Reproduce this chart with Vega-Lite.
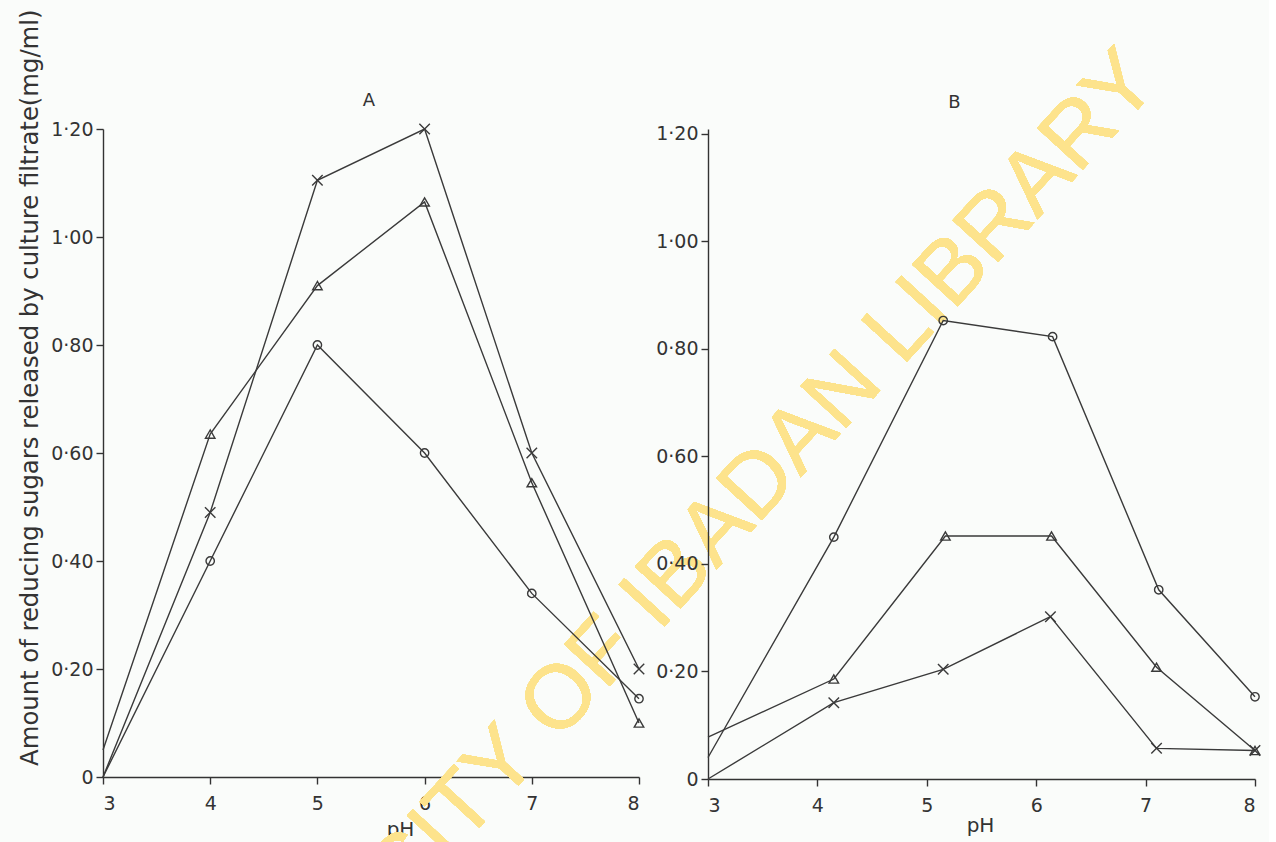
{
  "$schema": "https://vega.github.io/schema/vega-lite/v6.json",
  "background": "#fafcfa",
  "padding": {"left": 17, "top": 8, "right": 5, "bottom": 5},
  "bounds": "flush",
  "spacing": 69,
  "config": {
    "view": {"stroke": null},
    "font": "DejaVu Sans",
    "axis": {
      "grid": false,
      "domainColor": "#333333",
      "tickColor": "#333333",
      "labelColor": "#333333",
      "titleColor": "#333333",
      "domainWidth": 1.4,
      "tickWidth": 1.4,
      "tickSize": 7,
      "labelFontSize": 19,
      "labelFont": "DejaVu Sans",
      "titleFont": "DejaVu Sans",
      "titleFontWeight": "normal",
      "titleFontSize": 20
    },
    "title": {"fontSize": 18, "fontWeight": "normal", "color": "#333333", "font": "DejaVu Sans"}
  },
  "datasets": {
    "sugars": [
      {"panel": "A", "series": "cross", "pH": 3, "value": 0},
      {"panel": "A", "series": "cross", "pH": 4, "value": 0.49},
      {"panel": "A", "series": "cross", "pH": 5, "value": 1.105},
      {"panel": "A", "series": "cross", "pH": 6, "value": 1.2},
      {"panel": "A", "series": "cross", "pH": 7, "value": 0.6},
      {"panel": "A", "series": "cross", "pH": 8, "value": 0.2},
      {"panel": "A", "series": "triangle", "pH": 3, "value": 0.05},
      {"panel": "A", "series": "triangle", "pH": 4, "value": 0.635},
      {"panel": "A", "series": "triangle", "pH": 5, "value": 0.91},
      {"panel": "A", "series": "triangle", "pH": 6, "value": 1.065},
      {"panel": "A", "series": "triangle", "pH": 7, "value": 0.545},
      {"panel": "A", "series": "triangle", "pH": 8, "value": 0.1},
      {"panel": "A", "series": "circle", "pH": 3, "value": 0},
      {"panel": "A", "series": "circle", "pH": 4, "value": 0.4},
      {"panel": "A", "series": "circle", "pH": 5, "value": 0.8},
      {"panel": "A", "series": "circle", "pH": 6, "value": 0.6},
      {"panel": "A", "series": "circle", "pH": 7, "value": 0.34},
      {"panel": "A", "series": "circle", "pH": 8, "value": 0.145},
      {"panel": "B", "series": "circle", "pH": 3, "value": 0.04},
      {"panel": "B", "series": "circle", "pH": 4.15, "value": 0.45},
      {"panel": "B", "series": "circle", "pH": 5.15, "value": 0.853},
      {"panel": "B", "series": "circle", "pH": 6.15, "value": 0.823},
      {"panel": "B", "series": "circle", "pH": 7.12, "value": 0.352},
      {"panel": "B", "series": "circle", "pH": 8, "value": 0.153},
      {"panel": "B", "series": "triangle", "pH": 3, "value": 0.078},
      {"panel": "B", "series": "triangle", "pH": 4.15, "value": 0.186},
      {"panel": "B", "series": "triangle", "pH": 5.17, "value": 0.452},
      {"panel": "B", "series": "triangle", "pH": 6.14, "value": 0.452},
      {"panel": "B", "series": "triangle", "pH": 7.1, "value": 0.208},
      {"panel": "B", "series": "triangle", "pH": 8, "value": 0.053},
      {"panel": "B", "series": "cross", "pH": 3, "value": 0},
      {"panel": "B", "series": "cross", "pH": 4.15, "value": 0.142},
      {"panel": "B", "series": "cross", "pH": 5.15, "value": 0.204},
      {"panel": "B", "series": "cross", "pH": 6.13, "value": 0.302},
      {"panel": "B", "series": "cross", "pH": 7.1, "value": 0.057},
      {"panel": "B", "series": "cross", "pH": 8, "value": 0.053}
    ]
  },
  "hconcat": [
    {
      "width": 536,
      "height": 648,
      "title": {"text": "A", "frame": "group", "offset": -101, "dx": -2},
      "data": {"name": "sugars"},
      "transform": [{"filter": "datum.panel === 'A'"}],
      "encoding": {
        "x": {
          "field": "pH", "type": "quantitative",
          "scale": {"domain": [3, 8], "nice": false, "zero": false},
          "axis": {"values": [3, 4, 5, 6, 7, 8], "title": "pH", "labelPadding": 10, "titleX": 297, "titleY": 52, "titleBaseline": "middle", "titleAlign": "center"}
        },
        "y": {
          "field": "value", "type": "quantitative",
          "scale": {"domain": [0, 1.2], "nice": false},
          "axis": {
            "values": [0, 0.2, 0.4, 0.6, 0.8, 1.0, 1.2],
            "labelExpr": "datum.value == 0 ? '0' : replace(format(datum.value, '.2f'), '.', '·')",
            "labelPadding": 3,
            "title": "Amount of reducing sugars released by culture filtrate(mg/ml)",
            "titleFontSize": 24.3,
            "titleAngle": -90,
            "titleAlign": "right",
            "titleBaseline": "middle",
            "titleX": -73,
            "titleY": -120
          }
        }
      },
      "layer": [
        {
          "mark": {"type": "text", "text": "UNIVERSITY OF IBADAN LIBRARY", "angle": -47.5, "fontSize": 90, "font": "Liberation Sans", "color": "#fde38c", "align": "center", "baseline": "middle"},
          "encoding": {"x": {"datum": 8.093}, "y": {"datum": 0.322}}
        },
        {
          "mark": {"type": "line", "color": "#3a3a3a", "strokeWidth": 1.4},
          "encoding": {"detail": {"field": "series"}}
        },
        {
          "transform": [{"filter": "datum.pH > 3"}],
          "mark": {"type": "point", "filled": false, "color": "#3a3a3a", "strokeWidth": 1.4, "opacity": 1},
          "encoding": {
            "shape": {"field": "series", "scale": {"domain": ["circle", "triangle", "cross"], "range": ["circle", "triangle-up", "M-1,-1L1,1M1,-1L-1,1"]}, "legend": null},
            "size": {"field": "series", "scale": {"domain": ["circle", "triangle", "cross"], "range": [70, 110, 130]}, "legend": null}
          }
        }
      ]
    },
    {
      "width": 547,
      "height": 650,
      "title": {"text": "B", "frame": "group", "offset": 13, "dx": -27},
      "data": {"name": "sugars"},
      "transform": [{"filter": "datum.panel === 'B'"}],
      "encoding": {
        "x": {
          "field": "pH", "type": "quantitative",
          "scale": {"domain": [3, 8], "nice": false, "zero": false},
          "axis": {"values": [3, 4, 5, 6, 7, 8], "title": "pH", "labelPadding": 10, "titleX": 272, "titleY": 46, "titleBaseline": "middle", "titleAlign": "center"}
        },
        "y": {
          "field": "value", "type": "quantitative",
          "scale": {"domain": [0, 1.2093], "nice": false},
          "axis": {
            "values": [0, 0.2, 0.4, 0.6, 0.8, 1.0, 1.2],
            "labelExpr": "datum.value == 0 ? '0' : replace(format(datum.value, '.2f'), '.', '·')",
            "labelPadding": 3,
            "title": null
          }
        }
      },
      "layer": [
        {
          "mark": {"type": "line", "color": "#3a3a3a", "strokeWidth": 1.4},
          "encoding": {"detail": {"field": "series"}}
        },
        {
          "transform": [{"filter": "datum.pH > 3"}],
          "mark": {"type": "point", "filled": false, "color": "#3a3a3a", "strokeWidth": 1.4, "opacity": 1},
          "encoding": {
            "shape": {"field": "series", "scale": {"domain": ["circle", "triangle", "cross"], "range": ["circle", "triangle-up", "M-1,-1L1,1M1,-1L-1,1"]}, "legend": null},
            "size": {"field": "series", "scale": {"domain": ["circle", "triangle", "cross"], "range": [70, 110, 130]}, "legend": null}
          }
        }
      ]
    }
  ]
}
